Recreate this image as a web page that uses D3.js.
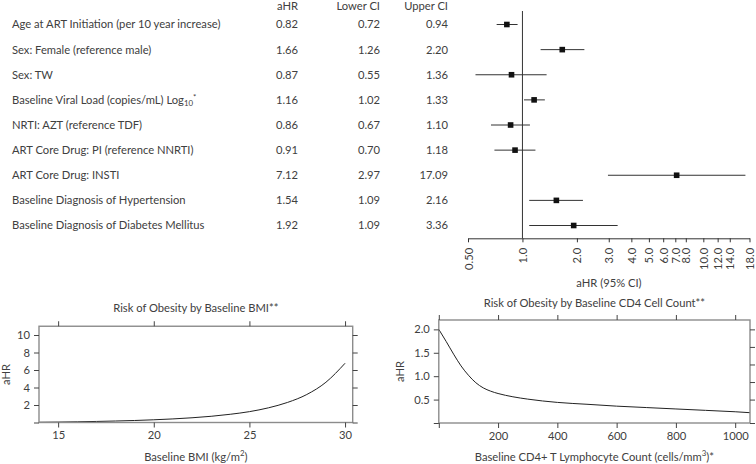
<!DOCTYPE html>
<html><head><meta charset="utf-8">
<script src="https://cdn.jsdelivr.net/npm/d3@7/dist/d3.min.js"></script>
<style>
html,body{margin:0;padding:0;background:#fff;}
svg{display:block;}
text{font-family:Lato,"Open Sans",sans-serif;fill:#404040;}
</style></head>
<body><svg id="c" width="756" height="464"></svg>
<script>
// ---- Forest plot data ----
const labels = [
  "Age at ART Initiation (per 10 year increase)",
  "Sex: Female (reference male)",
  "Sex: TW",
  "Baseline Viral Load (copies/mL) Log",
  "NRTI: AZT (reference TDF)",
  "ART Core Drug: PI (reference NNRTI)",
  "ART Core Drug: INSTI",
  "Baseline Diagnosis of Hypertension",
  "Baseline Diagnosis of Diabetes Mellitus"
];
const ahr   = [0.82, 1.66, 0.87, 1.16, 0.86, 0.91, 7.12, 1.54, 1.92];
const lower = [0.72, 1.26, 0.55, 1.02, 0.67, 0.70, 2.97, 1.09, 1.09];
const upper = [0.94, 2.20, 1.36, 1.33, 1.10, 1.18, 17.09, 2.16, 3.36];
const forestTicks = [0.5, 1, 2, 3, 4, 5, 6, 7, 8, 10, 12, 14, 18];
const forestTickLabels = ["0.50","1.0","2.0","3.0","4.0","5.0","6.0","7.0","8.0","10.0","12.0","14.0","18.0"];

// ---- BMI curve ----
const bmi    = [14, 15, 16, 17, 18, 19, 20, 21, 22, 23, 24, 25, 26, 27, 28, 29, 30];
const bmiHR  = [0.03, 0.05, 0.08, 0.12, 0.17, 0.23, 0.31, 0.41, 0.54, 0.71, 0.94, 1.24, 1.68, 2.30, 3.20, 4.60, 6.77];
const bmiXTicks = [15, 20, 25, 30];
const bmiYTicks = [0, 2, 4, 6, 8, 10];

// ---- CD4 curve ----
const cd4    = [0, 25, 50, 75, 100, 125, 150, 175, 200, 250, 300, 400, 500, 600, 700, 800, 900, 1000, 1050];
const cd4HR  = [2.0, 1.74, 1.47, 1.22, 1.02, 0.86, 0.75, 0.68, 0.63, 0.56, 0.51, 0.44, 0.40, 0.36, 0.33, 0.30, 0.27, 0.24, 0.22];
const cd4XTicks = [0, 200, 400, 600, 800, 1000];
const cd4YTicks = [0, 0.5, 1.0, 1.5, 2.0];
const cd4YRightTicks = [0, 0.5, 0.875, 1.25, 1.625, 2.0];

const svg = d3.select("#c");
const FS = 11.2;

// ================= Forest =================
const fx = d3.scaleLog().domain([0.5, 18]).range([468, 749.5]);
const fy = d3.scalePoint().domain(d3.range(labels.length)).range([24.5, 225.5]);
const axisY = 238.3;

const head = svg.append("g").attr("font-size", FS);
head.append("text").attr("x", 298).attr("y", 9.5).attr("text-anchor", "end").text("aHR");
head.append("text").attr("x", 380).attr("y", 9.5).attr("text-anchor", "end").text("Lower CI");
head.append("text").attr("x", 448).attr("y", 9.5).attr("text-anchor", "end").text("Upper CI");

const rows = svg.append("g").attr("font-size", FS);
labels.forEach((lab, i) => {
  const y = fy(i) + 3.9;
  const t = rows.append("text").attr("x", 12).attr("y", y).text(lab);
  if (i === 3) {
    t.append("tspan").attr("font-size", FS * 0.7).attr("dy", 2.5).text("10");
    t.append("tspan").attr("font-size", FS * 0.7).attr("dy", -6).text("*");
  }
  rows.append("text").attr("x", 298).attr("y", y).attr("text-anchor", "end").text(ahr[i].toFixed(2));
  rows.append("text").attr("x", 380).attr("y", y).attr("text-anchor", "end").text(lower[i].toFixed(2));
  rows.append("text").attr("x", 448).attr("y", y).attr("text-anchor", "end").text(upper[i].toFixed(2));
});

// reference line
svg.append("line").attr("x1", fx(1)).attr("x2", fx(1)).attr("y1", 11).attr("y2", axisY)
  .attr("stroke", "#333").attr("stroke-width", 1);

const ci = svg.append("g");
ci.selectAll("line").data(d3.range(labels.length)).join("line")
  .attr("x1", i => fx(lower[i])).attr("x2", i => fx(upper[i]))
  .attr("y1", i => fy(i)).attr("y2", i => fy(i))
  .attr("stroke", "#333").attr("stroke-width", 1);
ci.selectAll("rect").data(d3.range(labels.length)).join("rect")
  .attr("x", i => fx(ahr[i]) - 2.8).attr("y", i => fy(i) - 2.8)
  .attr("width", 5.6).attr("height", 5.6).attr("fill", "#111");

const fAxis = svg.append("g").attr("transform", `translate(0,${axisY})`)
  .call(d3.axisBottom(fx).tickValues(forestTicks).tickSize(4).tickSizeOuter(0)
    .tickFormat((d, i) => forestTickLabels[i]));
fAxis.select(".domain").attr("stroke", "#333");
fAxis.selectAll(".tick line").attr("stroke", "#333");
fAxis.selectAll(".tick text").attr("font-size", FS).attr("font-family", "Lato, sans-serif")
  .attr("fill", "#404040")
  .attr("transform", "rotate(-90)").attr("x", -9.5).attr("y", 0).attr("dy", "0.36em")
  .style("text-anchor", "end");
svg.append("text").attr("x", 609).attr("y", 287).attr("text-anchor", "middle")
  .attr("font-size", FS).text("aHR (95% CI)");

// ================= Panel helper =================
function panel(opts) {
  const { x, y, xTicks, yTicks, yRightTicks, xData, yData, title, titleY, xLabel, yLabelX } = opts;
  const g = svg.append("g");
  const [x0, x1] = x.range();
  const [y0, y1] = y.range(); // y0 bottom, y1 top
  const tickCol = "#444";
  g.append("path").datum(d3.range(xData.length))
    .attr("d", d3.line().x(i => x(xData[i])).y(i => y(yData[i])).curve(d3.curveMonotoneX))
    .attr("fill", "none").attr("stroke", "#222").attr("stroke-width", 1);
  g.append("rect").attr("x", x0).attr("y", y1).attr("width", x1 - x0).attr("height", y0 - y1)
    .attr("fill", "none").attr("stroke", "#8c8c8c").attr("stroke-width", 1.4);

  const style = sel => {
    sel.select(".domain").remove();
    sel.selectAll(".tick line").attr("stroke", tickCol);
    sel.selectAll(".tick text").attr("font-size", FS).attr("font-family", "Lato, sans-serif").attr("fill", "#404040");
  };
  g.append("g").attr("transform", `translate(0,${y0})`)
    .call(d3.axisBottom(x).tickValues(xTicks).tickSize(5).tickPadding(4)
      .tickFormat(d => d === 0 ? "" : d3.format("")(d))).call(style);
  g.append("g").attr("transform", `translate(0,${y1})`)
    .call(d3.axisTop(x).tickValues(xTicks).tickSize(5).tickFormat("")).call(style);
  g.append("g").attr("transform", `translate(${x0},0)`)
    .call(d3.axisLeft(y).tickValues(yTicks).tickSize(5).tickPadding(4)
      .tickFormat(d => d === 0 ? "" : opts.yFmt(d))).call(style);
  g.append("g").attr("transform", `translate(${x1},0)`)
    .call(d3.axisRight(y).tickValues(yRightTicks).tickSize(5).tickFormat("")).call(style);

  g.append("text").attr("x", (x0 + x1) / 2).attr("y", titleY).attr("text-anchor", "middle")
    .attr("font-size", FS).text(title);
  const xl = g.append("text").attr("x", (x0 + x1) / 2).attr("y", 461).attr("text-anchor", "middle")
    .attr("font-size", FS);
  xLabel(xl);
  g.append("text").attr("transform", `translate(${yLabelX},${(y0 + y1) / 2}) rotate(-90)`)
    .attr("text-anchor", "middle").attr("font-size", FS).text("aHR");
}

panel({
  x: d3.scaleLinear().domain([14, 30.4]).range([39, 352.7]),
  y: d3.scaleLinear().domain([0, 11]).range([422.5, 326.25]),
  xTicks: bmiXTicks, yTicks: bmiYTicks, yRightTicks: bmiYTicks,
  xData: bmi, yData: bmiHR, yFmt: d3.format(""),
  title: "Risk of Obesity by Baseline BMI**", titleY: 312,
  xLabel: t => {
    t.append("tspan").text("Baseline BMI (kg/m");
    t.append("tspan").attr("font-size", FS * 0.7).attr("dy", -5).text("2");
    t.append("tspan").attr("dy", 5).text(")");
  },
  yLabelX: 10
});

panel({
  x: d3.scaleLinear().domain([0, 1050]).range([438.8, 750]),
  y: d3.scaleLinear().domain([0, 2.2]).range([423, 320]),
  xTicks: cd4XTicks, yTicks: cd4YTicks, yRightTicks: cd4YRightTicks,
  xData: cd4, yData: cd4HR, yFmt: d3.format(".1f"),
  title: "Risk of Obesity by Baseline CD4 Cell Count**", titleY: 307,
  xLabel: t => {
    t.append("tspan").text("Baseline CD4+ T Lymphocyte Count (cells/mm");
    t.append("tspan").attr("font-size", FS * 0.7).attr("dy", -5).text("3");
    t.append("tspan").attr("dy", 5).text(")*");
  },
  yLabelX: 404
});
</script></body></html>
